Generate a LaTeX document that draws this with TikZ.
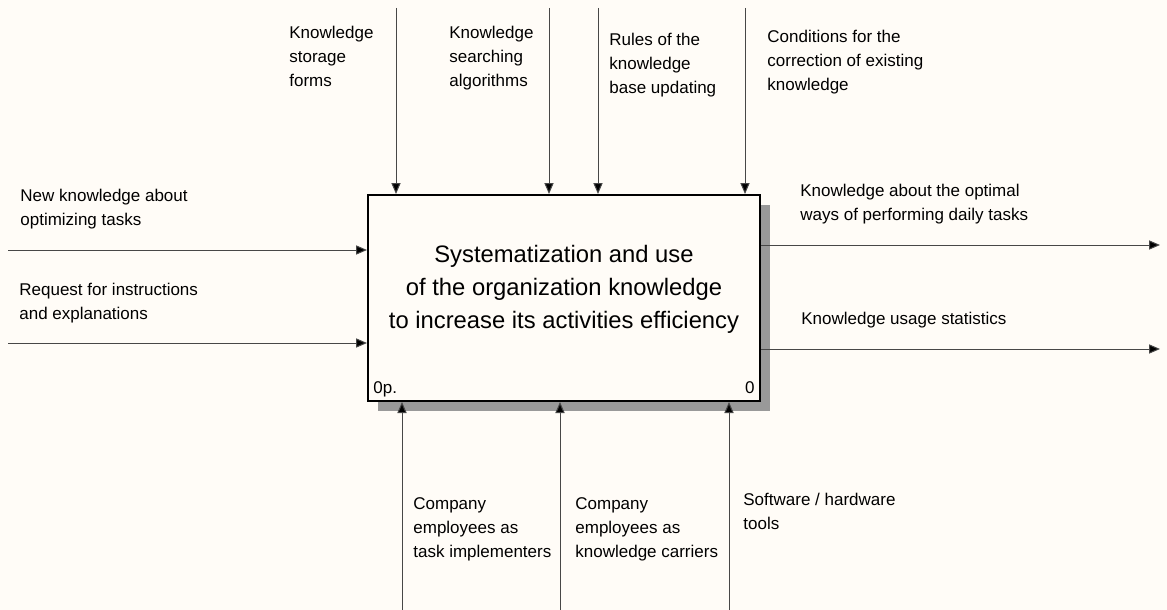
\documentclass[tikz,border=0pt]{standalone}
\usepackage{fontspec}
\setmainfont{Liberation Sans}
\usepackage{xcolor}
\usepackage{tikz}
\usetikzlibrary{arrows.meta, positioning, shadows}
\definecolor{paper}{RGB}{255,252,247}
\tikzstyle{flow} = [draw=black!72, line width=0.5pt, -{Triangle[length=5.5pt, width=4.6pt, fill=black]}]

\begin{document}
\begin{tikzpicture}[
    x=0.5pt, y=-0.5pt,
    procbox/.style={
        draw,
        line width=1pt,
        fill=paper,
        minimum width=196pt,
        minimum height=103pt,
        inner sep=0pt,
        drop shadow={shadow xshift=5pt, shadow yshift=-5pt, fill=black!40, opacity=1}
    },
    title/.style={
        anchor=north,
        align=center,
        inner sep=0pt,
        font=\fontsize{11.9}{16.5}\selectfont
    },
    lbl/.style={
        anchor=north west,
        align=left,
        inner sep=0pt,
        font=\fontsize{8.5}{12}\selectfont
    }
]
\fill[paper] (0,0) rectangle (1167,610);
\useasboundingbox (0,0) rectangle (1167,610);

% Activity
\node[procbox] (box) at (564,298) {};
\node[title] (title) at (564,244.5) {Systematization and use\\of the organization knowledge\\to increase its activities efficiency};
\node[lbl, anchor=base west] (opnum) at (373,393) {0p.};
\node[lbl, anchor=base east] (boxnum) at (755,393) {0};

% Controls
\coordinate (t1) at (396,8);
\coordinate (t2) at (549,8);
\coordinate (t3) at (598,8);
\coordinate (t4) at (745,8);
\node[lbl] (storage) at (289,25.5) {Knowledge\\storage\\forms};
\node[lbl] (searching) at (449,25.5) {Knowledge\\searching\\algorithms};
\node[lbl] (rules) at (609,32.5) {Rules of the\\knowledge\\base updating};
\node[lbl] (conditions) at (767,29.5) {Conditions for the\\correction of existing\\knowledge};

% Inputs
\coordinate (l1) at (8,250);
\coordinate (l2) at (8,343);
\node[lbl] (newknow) at (20,188.5) {New knowledge about\\optimizing tasks};
\node[lbl] (request) at (19,282.5) {Request for instructions\\and explanations};

% Outputs
\coordinate (r1) at (1160,245);
\coordinate (r2) at (1160,349);
\node[lbl] (optimal) at (800,183.5) {Knowledge about the optimal\\ways of performing daily tasks};
\node[lbl] (usage) at (801,311.5) {Knowledge usage statistics};

% Mechanisms
\coordinate (b1) at (402,610);
\coordinate (b2) at (560,610);
\coordinate (b3) at (729,610);
\node[lbl] (implementers) at (413,497.5) {Company\\employees as\\task implementers};
\node[lbl] (carriers) at (575,497.5) {Company\\employees as\\knowledge carriers};
\node[lbl] (tools) at (743,492.5) {Software / hardware\\tools};

% Arrows
\foreach \c in {t1,t2,t3,t4}
    \draw[flow] (\c) -- (\c |- box.north);
\foreach \c in {l1,l2}
    \draw[flow] (\c) -- (\c -| box.west);
\foreach \c in {r1,r2}
    \draw[flow] (\c -| box.east) -- (\c);
\foreach \c in {b1,b2,b3}
    \draw[flow] (\c) -- (\c |- box.south);
\end{tikzpicture}
\end{document}
